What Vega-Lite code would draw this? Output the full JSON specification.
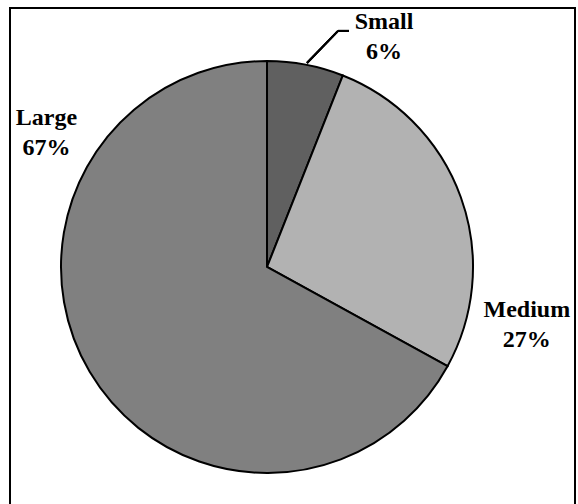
{
  "$schema": "https://vega.github.io/schema/vega-lite/v6.json",
  "autosize": "none",
  "width": 565,
  "height": 498,
  "padding": {"left": 10, "top": 8, "right": 3, "bottom": -2},
  "background": "white",
  "config": {"view": {"stroke": "#000000", "strokeWidth": 2}, "text": {"font": "Times New Roman"}},
  "data": {"values": [
    {"category": "Small", "percent": 6},
    {"category": "Medium", "percent": 27},
    {"category": "Large", "percent": 67}
  ]},
  "transform": [
    {"window": [{"op": "row_number", "as": "rank"}]},
    {"calculate": "datum.category + '\\n' + datum.percent + '%'", "as": "label"}
  ],
  "layer": [
    {
      "mark": {"type": "arc", "radius": 206, "stroke": "#000000", "strokeWidth": 2},
      "encoding": {
        "x": {"datum": 0, "type": "quantitative", "scale": {"domain": [-1.2476, 1.4951], "nice": false, "zero": false}, "axis": null},
        "y": {"datum": 0, "type": "quantitative", "scale": {"domain": [-1.1602, 1.2573], "nice": false, "zero": false}, "axis": null},
        "theta": {"field": "percent", "type": "quantitative", "stack": true},
        "order": {"field": "rank", "type": "quantitative"},
        "color": {"field": "category", "type": "nominal", "legend": null,
          "scale": {"domain": ["Small", "Medium", "Large"], "range": ["#606060", "#b2b2b2", "#808080"]}}
      }
    },
    {
      "mark": {"type": "text", "radius": 240, "font": "Liberation Serif", "fontWeight": "bold", "fontSize": 24,
        "lineBreak": "\n", "lineHeight": 30, "align": "center", "baseline": "middle", "fill": "#000000",
        "dx": {"expr": "datum.category === 'Small' ? 72 : datum.category === 'Medium' ? 34 : -14"},
        "dy": {"expr": "datum.category === 'Small' ? -9 : datum.category === 'Medium' ? 124 : -271"}},
      "encoding": {
        "x": {"datum": 0, "type": "quantitative"},
        "y": {"datum": 0, "type": "quantitative"},
        "theta": {"field": "percent", "type": "quantitative", "stack": true},
        "order": {"field": "rank", "type": "quantitative"},
        "text": {"field": "label"}
      }
    },
    {
      "mark": {"type": "rule", "stroke": "#000000", "strokeWidth": 2},
      "encoding": {
        "x": {"datum": 0.194, "type": "quantitative"},
        "y": {"datum": 0.99, "type": "quantitative"},
        "x2": {"datum": 0.345},
        "y2": {"datum": 1.146}
      }
    },
    {
      "mark": {"type": "rule", "stroke": "#000000", "strokeWidth": 2},
      "encoding": {
        "x": {"datum": 0.345, "type": "quantitative"},
        "y": {"datum": 1.146, "type": "quantitative"},
        "x2": {"datum": 0.398},
        "y2": {"datum": 1.146}
      }
    }
  ]
}
